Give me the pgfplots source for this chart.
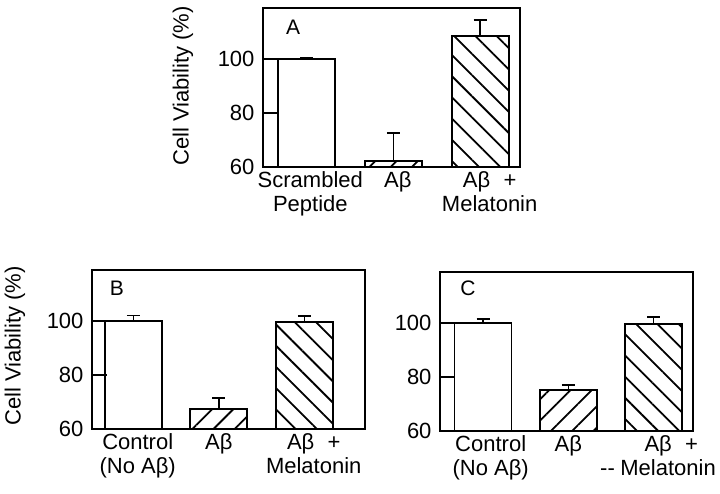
\documentclass[border=0pt]{standalone}
\usepackage{fontspec}
\setmainfont{Liberation Sans}
\usepackage{pgfplots}
\pgfplotsset{compat=1.18}
\usetikzlibrary{patterns.meta}
\newcommand{\bigf}{\fontsize{22}{24.5}\selectfont}
\pgfplotsset{
 panel/.style={
  scale only axis, height=159pt, ymin=60, ymax=119,
  axis on top,
  ytick={60,80,100}, tick align=inside, ytick pos=left, xtick pos=bottom,
  major tick length=15pt,
  /pgf/number format/assume math mode=true,
  yticklabel style={font=\bigf, xshift=-5pt},
  xticklabel style={font=\bigf, align=center, yshift=-1pt},
  major x tick style={draw=none},
  axis line style={line width=2pt},
  major y tick style={line width=1.8pt, black},
 },
 barbase/.style={ybar, bar width=57pt, bar shift=0pt, draw=black, line width=1.8pt,
  error bars/y dir=plus, error bars/y explicit,
  error bars/error bar style={line width=1.5pt, black},
  error bars/error mark options={rotate=90, mark size=6.5pt, line width=1.8pt, black}},
 barW/.style={barbase, fill=white},
 barNE/.style={barbase, fill=white, postaction={pattern={Lines[angle=45,distance=15pt,line width=1.8pt]}}},
 barNW/.style={barbase, fill=white, postaction={pattern={Lines[angle=-45,distance=15pt,line width=1.8pt]}}},
}
\begin{document}
\begin{tikzpicture}[x=1pt,y=1pt]
\useasboundingbox (0,0) rectangle (720,494);
% Panel A
\begin{axis}[panel, at={(263pt,327pt)}, anchor=south west, width=257pt,
  xmin=-0.506, xmax=2.46, xtick={0.04,1.05,2.11},
  xticklabels={{Scrambled\\Peptide},{Aβ},{Aβ\hspace{0.6em}+\\Melatonin}}]
\addplot[barW] coordinates {(0,100) +- (0,0.5)};
\addplot[barNE] coordinates {(1,62.3) +- (0,10.4)};
\addplot[barNW] coordinates {(2,108.5) +- (0,5.9)};
\end{axis}
% Panel B
\begin{axis}[panel, at={(92pt,65pt)}, anchor=south west, width=273pt,
  xmin=-0.485, xmax=2.71, xtick={0.05,1.0,2.11},
  xticklabels={{Control\\(No Aβ)},{Aβ},{Aβ\hspace{0.6em}+\\Melatonin}}]
\addplot[barW] coordinates {(0,100) +- (0,2.1)};
\addplot[barNE] coordinates {(1,67.3) +- (0,4.3)};
\addplot[barNW] coordinates {(2,99.6) +- (0,2.2)};
\end{axis}
% Panel C
\begin{axis}[panel, at={(440pt,63pt)}, anchor=south west, width=253pt,
  xmin=-0.504, xmax=2.46, xtick={0.09,1.0,2.05},
  xticklabels={{Control\\(No Aβ)},{Aβ},{\hspace{1.2em}Aβ\hspace{0.6em}+\\-{}-\hspace{0.25em}Melatonin}}]
\addplot[barW] coordinates {(0,100) +- (0,1.5)};
\addplot[barNE] coordinates {(1,75.3) +- (0,1.9)};
\addplot[barNW] coordinates {(2,99.6) +- (0,2.7)};
\end{axis}
\node[rotate=90, font=\bigf] at (183,408) {Cell Viability (\%)};
\node[rotate=90, font=\bigf] at (15,148) {Cell Viability (\%)};
\node[font=\fontsize{21}{23}\selectfont] at (293,467) {A};
\node[font=\fontsize{21}{23}\selectfont] at (117,206) {B};
\node[font=\fontsize{21}{23}\selectfont] at (468,206) {C};
\end{tikzpicture}
\end{document}
